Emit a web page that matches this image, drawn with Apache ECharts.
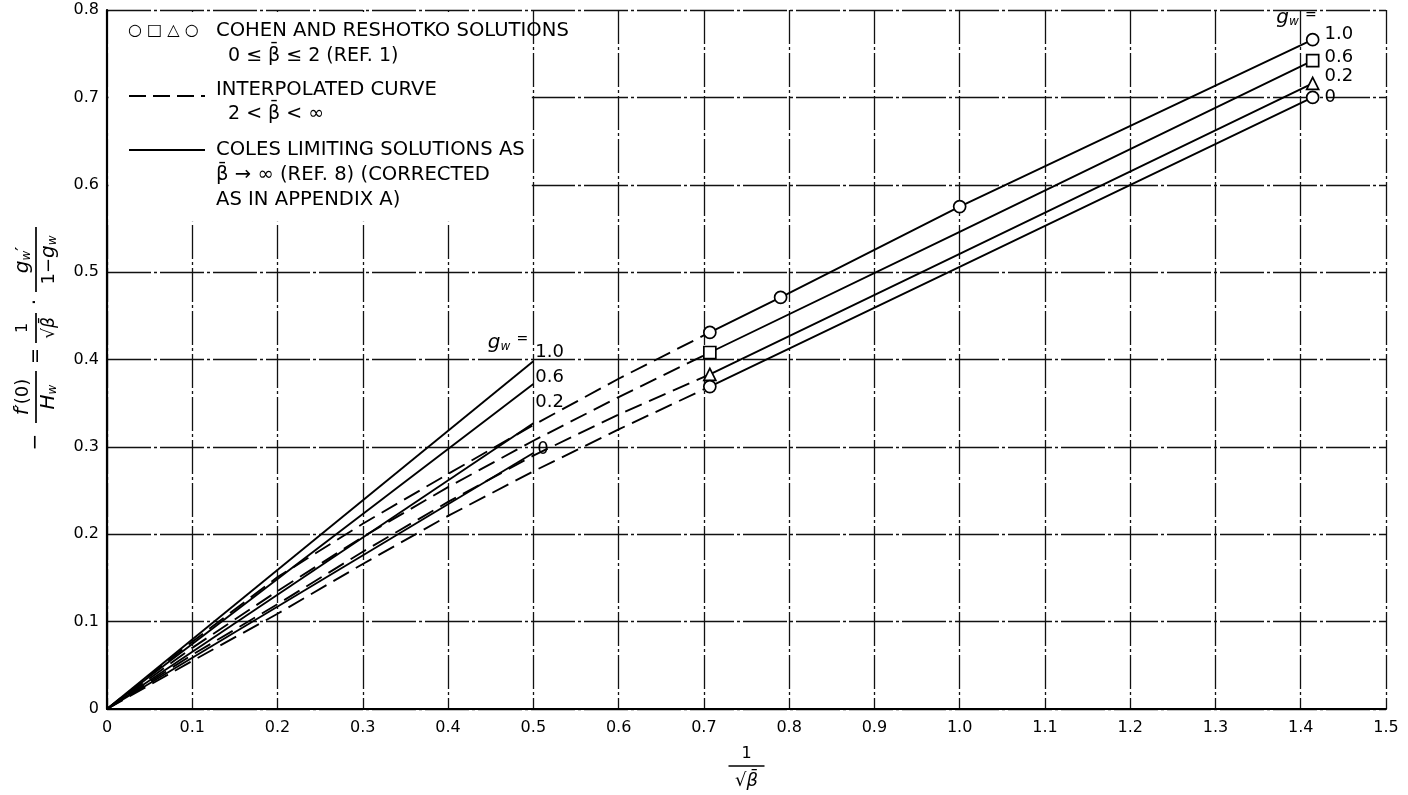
<!DOCTYPE html>
<html>
<head>
<meta charset="utf-8">
<script src="https://cdn.jsdelivr.net/npm/echarts@6/dist/echarts.min.js"></script>
<style>
html,body{margin:0;padding:0;background:#fff;}
#c{width:1408px;height:795px;}
</style>
</head>
<body>
<div id="c"></div>
<script>
// ---------- data ----------
const xTickLabels = ['0','0.1','0.2','0.3','0.4','0.5','0.6','0.7','0.8','0.9','1.0','1.1','1.2','1.3','1.4','1.5'];
const yTickLabels = ['0','0.1','0.2','0.3','0.4','0.5','0.6','0.7','0.8'];
const gwLabels = ['1.0','0.6','0.2','0'];

// Coles limiting solutions (solid, beta -> infinity)
const colesX = [0, 0.5];
const coles10 = [0, 0.398];
const coles06 = [0, 0.372];
const coles02 = [0, 0.327];
const coles00 = [0, 0.293];

// Interpolated curves (dashed, 2 < beta < infinity)
const interpX = [0, 0.1, 0.2, 0.3, 0.4, 0.5, 0.6, 0.707];
const interp10 = [0, 0.077, 0.151, 0.212, 0.269, 0.325, 0.378, 0.431];
const interp06 = [0, 0.070, 0.135, 0.197, 0.254, 0.307, 0.357, 0.408];
const interp02 = [0, 0.062, 0.120, 0.180, 0.237, 0.290, 0.337, 0.383];
const interp00 = [0, 0.055, 0.109, 0.166, 0.221, 0.272, 0.320, 0.369];

// Cohen and Reshotko curves (solid, 0 <= beta <= 2)
const cr10X = [0.707, 0.79, 1.0, 1.414];
const cr10 = [0.431, 0.471, 0.575, 0.766];
const crX = [0.707, 1.0, 1.414];
const cr06 = [0.408, 0.546, 0.742];
const cr02 = [0.383, 0.521, 0.716];
const cr00 = [0.369, 0.506, 0.700];

// Cohen and Reshotko solution points
const pt10X = [0.707, 0.79, 1.0, 1.414];
const pt10 = [0.431, 0.471, 0.575, 0.766];
const ptX = [0.707, 1.414];
const pt06 = [0.408, 0.742];
const pt02 = [0.383, 0.716];
const pt00 = [0.369, 0.700];

// ---------- chart ----------
const F = 'DejaVu Sans';
const INK = '#000000';
const pairs = (xs, ys) => xs.map((x, i) => [x, ys[i]]);

const chart = echarts.init(document.getElementById('c'), null, {renderer: 'canvas'});

function colesSeries(ys, label, off) {
  return {
    type: 'line', data: pairs(colesX, ys), symbol: 'none', z: 3, silent: true,
    lineStyle: {color: INK, width: 1.9},
    endLabel: {show: true, formatter: label, color: INK, fontFamily: F, fontSize: 18,
               distance: 2, offset: off}
  };
}
function lineSeries(xs, ys, dashed) {
  return {
    type: 'line', data: pairs(xs, ys), symbol: 'none', z: 3, silent: true,
    lineStyle: {color: INK, width: 1.9, type: dashed ? [18, 8] : 'solid'}
  };
}
function pointSeries(xs, ys, symbol, size, label, off) {
  const d = pairs(xs, ys).map((p, i) => {
    const item = {value: p};
    if (i === xs.length - 1) {
      item.label = {show: true, formatter: label, position: 'right', distance: 5, offset: off,
                    color: INK, fontFamily: F, fontSize: 18, opacity: 1};
    }
    return item;
  });
  return {
    type: 'scatter', data: d, symbol: symbol, symbolSize: size, z: 5, silent: true,
    itemStyle: {color: '#fff', borderColor: INK, borderWidth: 1.7, opacity: 1}
  };
}

const option = {
  backgroundColor: '#ffffff',
  animation: false,
  grid: {left: 107, right: 22, top: 10, bottom: 86, containLabel: false},
  xAxis: {
    type: 'value', min: 0, max: 1.5, interval: 0.1,
    axisLine: {show: true, lineStyle: {color: INK, width: 2.2}},
    axisTick: {show: false},
    axisLabel: {color: INK, fontFamily: F, fontSize: 16, margin: 11,
                formatter: v => xTickLabels[Math.round(v * 10)]},
    splitLine: {show: true, lineStyle: {color: '#111', width: 1.3, type: [34, 3, 3, 3]}}
  },
  yAxis: {
    type: 'value', min: 0, max: 0.8, interval: 0.1,
    axisLine: {show: true, lineStyle: {color: INK, width: 2.2}},
    axisTick: {show: false},
    axisLabel: {color: INK, fontFamily: F, fontSize: 16, margin: 8,
                formatter: v => yTickLabels[Math.round(v * 10)]},
    splitLine: {show: true, lineStyle: {color: '#111', width: 1.4, type: [44, 3, 3, 3]}}
  },
  series: [
    colesSeries(coles10, gwLabels[0], [0, -9]),
    colesSeries(coles06, gwLabels[1], [0, -7]),
    colesSeries(coles02, gwLabels[2], [0, -21]),
    colesSeries(coles00, gwLabels[3], [2, -4]),
    lineSeries(interpX, interp10, true),
    lineSeries(interpX, interp06, true),
    lineSeries(interpX, interp02, true),
    lineSeries(interpX, interp00, true),
    lineSeries(cr10X, cr10, false),
    lineSeries(crX, cr06, false),
    lineSeries(crX, cr02, false),
    lineSeries(crX, cr00, false),
    pointSeries(pt10X, pt10, 'circle', 12, gwLabels[0], [0, -5]),
    pointSeries(ptX, pt06, 'rect', 12, gwLabels[1], [0, -3]),
    pointSeries(ptX, pt02, 'triangle', 12, gwLabels[2], [0, -7]),
    pointSeries(ptX, pt00, 'circle', 12, gwLabels[3], [0, 0])
  ]
};
chart.setOption(option);

// ---------- annotations ----------
const richBase = {
  n: {fontSize: 18, fontFamily: F, fill: INK, color: INK},
  i: {fontSize: 20, fontFamily: F, fontStyle: 'italic', fill: INK, color: INK},
  s: {fontSize: 12, fontFamily: F, fontStyle: 'italic', fill: INK, color: INK, verticalAlign: 'bottom'},
  e: {fontSize: 14, fontFamily: F, fill: INK, color: INK, verticalAlign: 'top'}
};
function txt(x, y, text, opts) {
  return {type: 'text', x: x, y: y, z: 20, silent: true,
    style: Object.assign({text: text, fill: INK, fontFamily: F, fontSize: 19.6,
      align: 'left', verticalAlign: 'middle', rich: richBase}, opts || {})};
}
function seg(x1, y1, x2, y2, dash, w) {
  return {type: 'line', z: 20, silent: true, shape: {x1, y1, x2, y2},
          style: {stroke: INK, lineWidth: w || 1.9, lineDash: dash || null}};
}

const pA = chart.convertToPixel({gridIndex: 0}, [0.5, 0.4]);
const pB = chart.convertToPixel({gridIndex: 0}, [1.414, 0.8]);
const pO = chart.convertToPixel({gridIndex: 0}, [0, 0.8]);
const pM = chart.convertToPixel({gridIndex: 0}, [0.5, 0.56]);
const pMid = chart.convertToPixel({gridIndex: 0}, [0.75, 0]);

const beta = 'β\u0304';
const graphics = [
  // legend box background
  {type: 'rect', z: 1, silent: true,
   shape: {x: pO[0] + 1.5, y: pO[1] + 2, width: pM[0] - pO[0] - 3, height: pM[1] - pO[1]},
   style: {fill: '#fff'}},
  txt(128, 31, '○ □ △ ○', {fontSize: 16}),
  txt(216, 31, 'COHEN AND RESHOTKO SOLUTIONS'),
  txt(228, 56, '0 ≤ ' + beta + ' ≤ 2 (REF. 1)', {fontSize: 19}),
  seg(129, 96, 205, 96, [17, 7]),
  txt(216, 90, 'INTERPOLATED CURVE'),
  txt(228, 114, '2 < ' + beta + ' < ∞', {fontSize: 19}),
  seg(129, 150, 205, 150),
  txt(216, 150, 'COLES LIMITING SOLUTIONS AS'),
  txt(216, 175, beta + ' → ∞ (REF. 8) (CORRECTED'),
  txt(216, 200, 'AS IN APPENDIX A)'),
  // g_w = labels
  txt(pA[0] - 5, pA[1] - 17, '{i|g}{s|w} {e|=}', {align: 'right'}),
  txt(pB[0] + 4, pB[1] + 8, '{i|g}{s|w} {e|=}', {align: 'right'}),
  // x axis title
  txt(pMid[0], pMid[1] + 45, '1', {align: 'center', fontSize: 16}),
  seg(pMid[0] - 18, pMid[1] + 57, pMid[0] + 18, pMid[1] + 57, null, 1.7),
  txt(pMid[0], pMid[1] + 72, '√' + beta, {align: 'center', fontSize: 18, fontStyle: 'italic'}),
  // y axis title (rotated group)
  {
    type: 'group', x: 36, y: 447, rotation: Math.PI / 2, z: 20, silent: true,
    children: [
      {type: 'text', style: {text: '−', x: 5, y: 0, align: 'center', verticalAlign: 'middle', fontSize: 20, fontFamily: F, fill: INK}},
      {type: 'text', style: {text: '{i|f}{n|′(0)}', x: 50, y: -13, align: 'center', verticalAlign: 'middle', rich: richBase}},
      {type: 'line', shape: {x1: 24, y1: 0, x2: 76, y2: 0}, style: {stroke: INK, lineWidth: 1.7}},
      {type: 'text', style: {text: '{i|H}{s|w}', x: 50, y: 13, align: 'center', verticalAlign: 'middle', rich: richBase}},
      {type: 'text', style: {text: '=', x: 91, y: 0, align: 'center', verticalAlign: 'middle', fontSize: 19, fontFamily: F, fill: INK}},
      {type: 'text', style: {text: '1', x: 119, y: -13, align: 'center', verticalAlign: 'middle', fontSize: 16, fontFamily: F, fill: INK}},
      {type: 'line', shape: {x1: 104, y1: 0, x2: 134, y2: 0}, style: {stroke: INK, lineWidth: 1.7}},
      {type: 'text', style: {text: '√' + beta, x: 119, y: 14, align: 'center', verticalAlign: 'middle', fontSize: 17, fontFamily: F, fontStyle: 'italic', fill: INK}},
      {type: 'text', style: {text: '·', x: 145, y: 0, align: 'center', verticalAlign: 'middle', fontSize: 20, fontFamily: F, fill: INK}},
      {type: 'text', style: {text: '{i|g}{s|w}{n|′}', x: 187, y: -13, align: 'center', verticalAlign: 'middle', rich: richBase}},
      {type: 'line', shape: {x1: 155, y1: 0, x2: 220, y2: 0}, style: {stroke: INK, lineWidth: 1.7}},
      {type: 'text', style: {text: '{n|1−}{i|g}{s|w}', x: 187, y: 13, align: 'center', verticalAlign: 'middle', rich: richBase}}
    ]
  }
];
chart.setOption({graphic: graphics});
</script>
</body>
</html>
